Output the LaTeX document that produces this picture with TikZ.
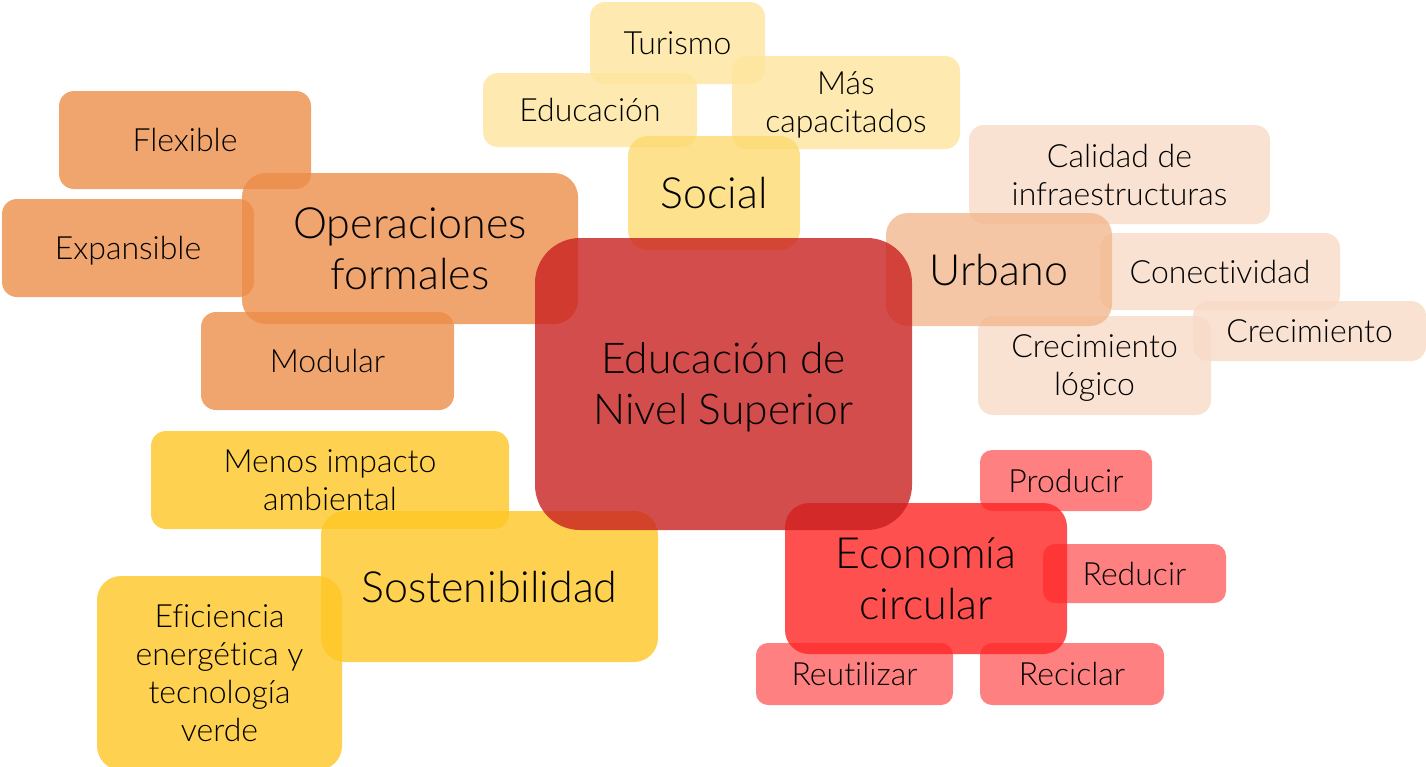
\documentclass[tikz,border=0pt]{standalone}
\usepackage{fontspec}
\setmainfont{Lato}[UprightFont={* Light},Ligatures={NoCommon}]
\usepackage{tikz}
\usetikzlibrary{positioning}
\definecolor{cRed}{RGB}{201,32,32}
\definecolor{cOrange}{RGB}{236,141,74}
\definecolor{cSocial}{RGB}{253,217,111}
\definecolor{cSocialL}{RGB}{254,229,156}
\definecolor{cUrb}{RGB}{243,184,142}
\definecolor{cUrbL}{RGB}{248,219,199}
\definecolor{cSost}{RGB}{254,199,36}
\definecolor{cEco}{RGB}{255,36,36}
\definecolor{cEcoL}{RGB}{255,96,96}

\begin{document}
\begin{tikzpicture}[x=1pt,y=-1pt,
  box/.style={rectangle,fill opacity=0.8,text opacity=1,inner sep=0pt,align=center,
    text depth=-5pt,rounded corners=15pt,font=\fontsize{32}{38}\selectfont},
  topic/.style={box,rounded corners=24pt,font=\fontsize{43}{51}\selectfont},
  root/.style={box,rounded corners=45pt,font=\fontsize{42.5}{51}\selectfont}]
\useasboundingbox (0,0) rectangle (1426,766);

% operaciones formales
\node[box,fill=cOrange,minimum width=252pt,minimum height=98pt] (flex) at (185,140) {Flexible};
\node[box,fill=cOrange,minimum width=252pt,minimum height=98pt] (expa) at (128,248) {Expansible};
\node[box,fill=cOrange,minimum width=253pt,minimum height=98pt] (modu) at (327.5,361) {Modular};
\node[topic,fill=cOrange,minimum width=336pt,minimum height=151pt] (oper) at (410,248.5) {Operaciones\\formales};

% social
\node[box,fill=cSocialL,minimum width=175pt,minimum height=82pt] (turi) at (677.5,43) {Turismo};
\node[box,fill=cSocialL,minimum width=214pt,minimum height=74pt] (educ) at (590,110) {Educación};
\node[box,fill=cSocialL,minimum width=228pt,minimum height=93pt] (capa) at (846,102.5) {Más\\capacitados};
\node[topic,rounded corners=20pt,fill=cSocial,minimum width=172pt,minimum height=114pt] (soci) at (714,193) {Social};

% urbano
\node[box,fill=cUrbL,minimum width=301pt,minimum height=99pt] (cali) at (1119.5,174.5) {Calidad de\\infraestructuras};
\node[box,fill=cUrbL,minimum width=240pt,minimum height=77pt] (cone) at (1220,271.5) {Conectividad};
\node[box,fill=cUrbL,minimum width=233pt,minimum height=60pt] (crec) at (1309.5,331) {Crecimiento};
\node[box,fill=cUrbL,minimum width=233pt,minimum height=99pt] (crlo) at (1094.5,365.5) {Crecimiento\\lógico};
\node[topic,rounded corners=22pt,fill=cUrb,minimum width=226pt,minimum height=113pt] (urba) at (999,269.5) {Urbano};

% sostenibilidad
\node[box,fill=cSost,minimum width=358pt,minimum height=98pt] (meno) at (330,480) {Menos impacto\\ambiental};
\node[box,rounded corners=24pt,fill=cSost,minimum width=245pt,minimum height=194pt] (efic) at (219.5,673) {Eficiencia\\energética y\\tecnología\\verde};
\node[topic,fill=cSost,minimum width=337pt,minimum height=151pt] (sost) at (489.5,586.5) {Sostenibilidad};

% economia circular
\node[box,rounded corners=12pt,fill=cEcoL,minimum width=172pt,minimum height=61pt] (prod) at (1066,480.5) {Producir};
\node[box,rounded corners=12pt,fill=cEcoL,minimum width=183pt,minimum height=59pt] (redu) at (1134.5,573.5) {Reducir};
\node[box,rounded corners=12pt,fill=cEcoL,minimum width=197pt,minimum height=62pt] (reut) at (854.5,674) {Reutilizar};
\node[box,rounded corners=12pt,fill=cEcoL,minimum width=184pt,minimum height=62pt] (reci) at (1072,674) {Reciclar};
\node[topic,fill=cEco,minimum width=282pt,minimum height=151pt] (econ) at (926,578.5) {Economía\\circular};

% centro
\node[root,fill=cRed,minimum width=377pt,minimum height=292pt] (edu) at (723.5,384) {Educación de\\Nivel Superior};
\end{tikzpicture}
\end{document}
